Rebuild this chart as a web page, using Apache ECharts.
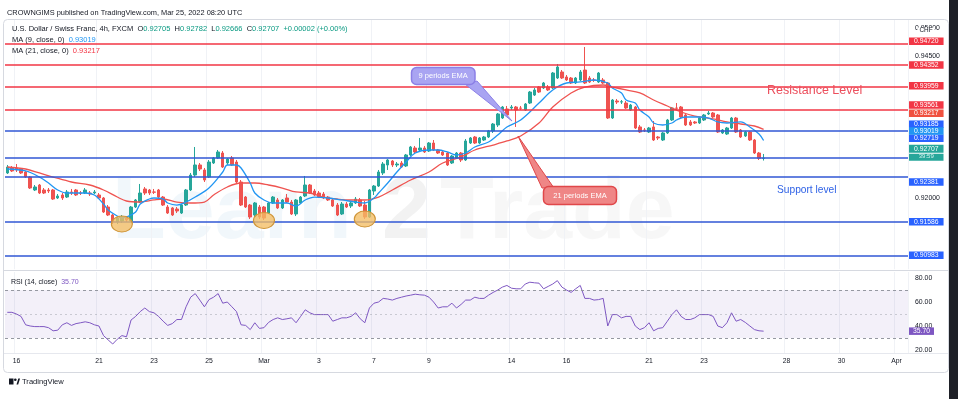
<!DOCTYPE html>
<html>
<head>
<meta charset="utf-8">
<title>USD/CHF 4h</title>
<script src="https://cdn.jsdelivr.net/npm/echarts@6/dist/echarts.min.js"></script>
<style>
  html, body { margin: 0; padding: 0; background: #fff; }
  .wrap { position: relative; width: 958px; height: 399px; overflow: hidden; background: #fff; }
  #chart { width: 958px; height: 399px; }
  .edge { position: absolute; top: 0; bottom: 0; right: 0; width: 9px; background: #1e2027; }
</style>
</head>
<body>
<div class="wrap">
  <div id="chart"></div>
  <div class="edge"></div>
</div>
<script>
const FONT = '"Liberation Sans", Arial, sans-serif'

// bars: two late bars of Feb 15, then 6 bars per trading day
const firstBars = ['2022-02-15 17:00', '2022-02-15 21:00']
const barHours = ['01:00', '05:00', '09:00', '13:00', '17:00', '21:00']
const tradingDays = ['2022-02-16', '2022-02-17', '2022-02-18',
  '2022-02-21', '2022-02-22', '2022-02-23', '2022-02-24', '2022-02-25',
  '2022-02-28', '2022-03-01', '2022-03-02', '2022-03-03', '2022-03-04',
  '2022-03-07', '2022-03-08', '2022-03-09', '2022-03-10', '2022-03-11',
  '2022-03-14', '2022-03-15', '2022-03-16', '2022-03-17', '2022-03-18',
  '2022-03-21', '2022-03-22', '2022-03-23', '2022-03-24', '2022-03-25',
  '2022-03-28', '2022-03-29', '2022-03-30', '2022-03-31', '2022-04-01']
const lastCategory = '2022-04-01 09:00'

const dayLabelDates = ['2022-02-16', '2022-02-21', '2022-02-23', '2022-02-25', '2022-03-01',
  '2022-03-03', '2022-03-07', '2022-03-09', '2022-03-14', '2022-03-16', '2022-03-21',
  '2022-03-23', '2022-03-28', '2022-03-30', '2022-04-01']
const dayLabelTexts = ['16', '21', '23', '25', 'Mar', '3', '7', '9', '14', '16', '21', '23', '28', '30', 'Apr']

const opens = [0.92447, 0.92535, 0.92535, 0.92517, 0.92464, 0.92376, 0.92147, 0.92235, 0.92147, 0.92147,
  0.92147, 0.92006, 0.92059, 0.92023, 0.92112, 0.92147, 0.92094, 0.92094, 0.92094, 0.92094,
  0.92059, 0.92006, 0.91847, 0.91706, 0.91583, 0.91600, 0.91653, 0.91600, 0.91847, 0.91935,
  0.92165, 0.92147, 0.92112, 0.92147, 0.92023, 0.91847, 0.91830, 0.91812, 0.91741, 0.91882,
  0.92147, 0.92411, 0.92588, 0.92500, 0.92376, 0.92623, 0.92711, 0.92799, 0.92623, 0.92711,
  0.92640, 0.92288, 0.92023, 0.91882, 0.91706, 0.91847, 0.91847, 0.91741, 0.91918, 0.91971,
  0.91830, 0.92006, 0.91935, 0.91724, 0.91918, 0.92041, 0.92235, 0.92129, 0.92094, 0.92076,
  0.92023, 0.91971, 0.91882, 0.91724, 0.91900, 0.91865, 0.91918, 0.91971, 0.91882, 0.91671,
  0.92129, 0.92217, 0.92447, 0.92588, 0.92658, 0.92588, 0.92623, 0.92570, 0.92764, 0.92887,
  0.92852, 0.92887, 0.92834, 0.92975, 0.92852, 0.92817, 0.92799, 0.92623, 0.92711, 0.92799,
  0.92676, 0.92975, 0.93081, 0.92975, 0.93028, 0.93081, 0.93187, 0.93293, 0.93416, 0.93575,
  0.93592, 0.93610, 0.93592, 0.93557, 0.93680, 0.93821, 0.93962, 0.93945, 0.93962, 0.93945,
  0.94121, 0.94227, 0.94139, 0.94121, 0.94033, 0.94086, 0.94262, 0.94121, 0.94086, 0.94051,
  0.94086, 0.94033, 0.93416, 0.93716, 0.93698, 0.93680, 0.93557, 0.93610, 0.93258, 0.93205,
  0.93169, 0.93258, 0.93081, 0.93028, 0.93152, 0.93381, 0.93592, 0.93610, 0.93469, 0.93346,
  0.93346, 0.93328, 0.93381, 0.93487, 0.93504, 0.93469, 0.93152, 0.93134, 0.93240, 0.93416,
  0.93205, 0.93099, 0.93169, 0.93028, 0.92799, 0.92705]
const closes = [0.92552, 0.92482, 0.92500, 0.92447, 0.92376, 0.92182, 0.92200, 0.92094, 0.92094, 0.92129,
  0.91988, 0.92041, 0.92006, 0.92112, 0.92094, 0.92059, 0.92090, 0.92147, 0.92076, 0.92112,
  0.92006, 0.91759, 0.91706, 0.91583, 0.91653, 0.91671, 0.91618, 0.91847, 0.91971, 0.92094,
  0.92094, 0.92094, 0.92108, 0.92023, 0.91882, 0.91741, 0.91706, 0.91777, 0.91882, 0.92147,
  0.92411, 0.92588, 0.92517, 0.92323, 0.92640, 0.92711, 0.92817, 0.92552, 0.92693, 0.92588,
  0.92288, 0.91882, 0.91847, 0.91671, 0.91918, 0.91671, 0.91653, 0.91918, 0.92023, 0.91830,
  0.91971, 0.91935, 0.91724, 0.91971, 0.92023, 0.92235, 0.92094, 0.92059, 0.92023, 0.92006,
  0.91971, 0.91865, 0.91706, 0.91900, 0.91847, 0.91918, 0.91988, 0.91865, 0.91671, 0.92147,
  0.92217, 0.92464, 0.92605, 0.92676, 0.92588, 0.92605, 0.92552, 0.92764, 0.92905, 0.92817,
  0.92887, 0.92817, 0.92975, 0.92852, 0.92799, 0.92764, 0.92588, 0.92746, 0.92799, 0.92676,
  0.93011, 0.93064, 0.92975, 0.93064, 0.93081, 0.93187, 0.93310, 0.93487, 0.93610, 0.93469,
  0.93610, 0.93557, 0.93588, 0.93663, 0.93874, 0.93910, 0.93874, 0.94033, 0.93910, 0.94209,
  0.94315, 0.94121, 0.94086, 0.94033, 0.94121, 0.94227, 0.94033, 0.94051, 0.94082, 0.94209,
  0.94033, 0.93416, 0.93733, 0.93698, 0.93702, 0.93592, 0.93645, 0.93240, 0.93169, 0.93200,
  0.93240, 0.93028, 0.93064, 0.93152, 0.93381, 0.93592, 0.93588, 0.93434, 0.93293, 0.93293,
  0.93328, 0.93416, 0.93469, 0.93504, 0.93434, 0.93169, 0.93205, 0.93240, 0.93416, 0.93169,
  0.93081, 0.93169, 0.93028, 0.92799, 0.92705, 0.92707]
const lows = [0.92429, 0.92464, 0.92464, 0.92429, 0.92358, 0.92165, 0.92129, 0.92076, 0.92076, 0.92094,
  0.91971, 0.91988, 0.91971, 0.92006, 0.92059, 0.92041, 0.92059, 0.92076, 0.92041, 0.92076,
  0.91988, 0.91741, 0.91688, 0.91547, 0.91547, 0.91565, 0.91583, 0.91583, 0.91830, 0.91918,
  0.92059, 0.92059, 0.92076, 0.92006, 0.91865, 0.91724, 0.91688, 0.91741, 0.91724, 0.91865,
  0.92129, 0.92376, 0.92482, 0.92288, 0.92358, 0.92605, 0.92693, 0.92535, 0.92588, 0.92570,
  0.92270, 0.91865, 0.91830, 0.91636, 0.91671, 0.91636, 0.91618, 0.91724, 0.91900, 0.91812,
  0.91812, 0.91918, 0.91706, 0.91688, 0.91900, 0.92023, 0.92076, 0.92041, 0.92006, 0.91988,
  0.91953, 0.91847, 0.91688, 0.91706, 0.91830, 0.91830, 0.91900, 0.91847, 0.91636, 0.91653,
  0.92059, 0.92200, 0.92411, 0.92500, 0.92552, 0.92552, 0.92535, 0.92552, 0.92746, 0.92799,
  0.92834, 0.92799, 0.92817, 0.92834, 0.92782, 0.92746, 0.92570, 0.92605, 0.92693, 0.92640,
  0.92658, 0.92958, 0.92958, 0.92958, 0.93011, 0.93064, 0.93152, 0.93258, 0.93399, 0.93451,
  0.93557, 0.93258, 0.93557, 0.93540, 0.93663, 0.93804, 0.93857, 0.93927, 0.93892, 0.93927,
  0.94103, 0.94103, 0.94068, 0.94015, 0.94015, 0.94068, 0.94015, 0.94033, 0.94051, 0.94033,
  0.94015, 0.93399, 0.93399, 0.93663, 0.93663, 0.93575, 0.93540, 0.93222, 0.93152, 0.93169,
  0.93152, 0.93011, 0.93028, 0.93011, 0.93134, 0.93363, 0.93557, 0.93416, 0.93275, 0.93275,
  0.93310, 0.93310, 0.93363, 0.93469, 0.93416, 0.93152, 0.93134, 0.93117, 0.93222, 0.93152,
  0.93064, 0.93081, 0.93011, 0.92782, 0.92676, 0.92666]
const highs = [0.92588, 0.92570, 0.92605, 0.92535, 0.92482, 0.92394, 0.92235, 0.92253, 0.92182, 0.92182,
  0.92165, 0.92076, 0.92094, 0.92147, 0.92165, 0.92165, 0.92129, 0.92182, 0.92129, 0.92147,
  0.92094, 0.92023, 0.91882, 0.91724, 0.91688, 0.91706, 0.91688, 0.91865, 0.91988, 0.92253,
  0.92200, 0.92165, 0.92165, 0.92165, 0.92041, 0.91882, 0.91847, 0.91847, 0.91900, 0.92165,
  0.92447, 0.92905, 0.92623, 0.92535, 0.92676, 0.92729, 0.92852, 0.92834, 0.92711, 0.92746,
  0.92676, 0.92323, 0.92041, 0.91900, 0.91935, 0.91882, 0.91865, 0.91935, 0.92041, 0.92006,
  0.91988, 0.92076, 0.91971, 0.91988, 0.92041, 0.92394, 0.92253, 0.92165, 0.92129, 0.92112,
  0.92041, 0.91988, 0.91918, 0.91935, 0.91935, 0.91953, 0.92023, 0.92006, 0.91953, 0.92165,
  0.92235, 0.92500, 0.92640, 0.92693, 0.92676, 0.92640, 0.92658, 0.92782, 0.92923, 0.92923,
  0.93064, 0.92923, 0.92993, 0.93028, 0.92870, 0.92852, 0.92817, 0.92764, 0.92817, 0.92817,
  0.93046, 0.93081, 0.93099, 0.93081, 0.93099, 0.93205, 0.93328, 0.93504, 0.93628, 0.93628,
  0.93645, 0.93628, 0.93628, 0.93680, 0.93892, 0.93945, 0.93980, 0.94051, 0.93998, 0.94227,
  0.94368, 0.94262, 0.94174, 0.94139, 0.94139, 0.94262, 0.94668, 0.94156, 0.94121, 0.94227,
  0.94121, 0.94051, 0.93751, 0.93751, 0.93733, 0.93716, 0.93663, 0.93628, 0.93293, 0.93240,
  0.93258, 0.93363, 0.93099, 0.93169, 0.93399, 0.93610, 0.93680, 0.93628, 0.93487, 0.93381,
  0.93363, 0.93434, 0.93487, 0.93540, 0.93522, 0.93487, 0.93222, 0.93258, 0.93434, 0.93434,
  0.93222, 0.93187, 0.93187, 0.93046, 0.92817, 0.92782]

// moving averages at these bar indices
const ma9Idx = [0, 4, 7, 9, 11, 13, 17, 19, 21, 22, 24, 25, 26, 28, 29, 31, 32, 34, 35, 37,
  39, 41, 44, 47, 48, 50, 51, 53, 54, 56, 58, 61, 63, 65, 67, 70, 73, 76, 78, 80,
  81, 83, 85, 87, 89, 92, 94, 96, 98, 100, 102, 105, 107, 109, 112, 116, 119, 122, 125, 128,
  131, 132, 134, 135, 137, 138, 140, 141, 143, 145, 146, 148, 151, 153, 155, 157, 160, 162, 164, 165]
const ma9Val = [0.92517, 0.92482, 0.92376, 0.92270, 0.92147, 0.92094, 0.92094, 0.92059, 0.91900, 0.91794,
  0.91688, 0.91653, 0.91671, 0.91759, 0.91900, 0.91988, 0.92006, 0.91988, 0.91918, 0.91882,
  0.91935, 0.92023, 0.92182, 0.92464, 0.92588, 0.92588, 0.92535, 0.92270, 0.92094, 0.91971,
  0.91918, 0.91918, 0.91865, 0.91971, 0.92023, 0.92006, 0.91971, 0.91935, 0.91918, 0.92006,
  0.92094, 0.92270, 0.92464, 0.92640, 0.92799, 0.92852, 0.92852, 0.92817, 0.92764, 0.92799,
  0.92905, 0.92993, 0.93117, 0.93258, 0.93381, 0.93680, 0.93910, 0.94033, 0.94051, 0.94086,
  0.94033, 0.93945, 0.93857, 0.93733, 0.93680, 0.93557, 0.93434, 0.93328, 0.93293, 0.93328,
  0.93381, 0.93434, 0.93434, 0.93416, 0.93346, 0.93328, 0.93346, 0.93258, 0.93134, 0.93019]
const ma21Idx = [0, 4, 7, 10, 14, 18, 21, 24, 26, 29, 32, 34, 37, 40, 43, 45, 48, 51, 54, 57,
  60, 63, 66, 69, 72, 75, 78, 81, 84, 88, 92, 95, 99, 102, 106, 109, 112, 116, 119, 123,
  126, 130, 132, 135, 138, 141, 144, 147, 150, 154, 157, 160, 163, 165]
const ma21Val = [0.92552, 0.92517, 0.92447, 0.92376, 0.92288, 0.92235, 0.92147, 0.92023, 0.91953, 0.91935,
  0.91971, 0.91988, 0.91935, 0.91918, 0.91935, 0.92059, 0.92200, 0.92270, 0.92270, 0.92235,
  0.92182, 0.92112, 0.92094, 0.92023, 0.91988, 0.91971, 0.91971, 0.92023, 0.92147, 0.92323,
  0.92464, 0.92623, 0.92729, 0.92852, 0.92940, 0.93011, 0.93099, 0.93328, 0.93610, 0.93857,
  0.93962, 0.93998, 0.93962, 0.93910, 0.93857, 0.93733, 0.93628, 0.93522, 0.93451, 0.93399,
  0.93346, 0.93310, 0.93275, 0.93217]

const rsi = [51.4, 51.4, 50, 48, 41, 40, 39.5, 39.5, 39.5, 38.6,
  36, 36.5, 41, 42.7, 40.5, 42, 42.7, 43.5, 42.7, 41,
  40, 32, 28.4, 25, 29, 32, 31, 45, 48, 52,
  55, 52, 51, 48, 44, 40.5, 42, 45.4, 45.4, 56,
  64, 67, 61.6, 56, 62, 64, 67, 59, 60, 56,
  52, 41, 40.5, 37, 42.7, 38, 38.6, 43, 45.4, 46.8,
  45.4, 46, 46.8, 42.7, 48, 53.5, 51, 49.5, 49.5, 49.5,
  49.5, 44, 45.4, 46.8, 46.8, 48, 51, 46, 42.7, 55,
  59, 60, 63, 62.5, 61.6, 63, 64, 65, 65.7, 66.5,
  66, 65.7, 64, 60, 55, 56, 56, 59, 55, 58,
  61.6, 61.6, 64, 63, 63, 65.7, 68, 70, 72.4, 73.8,
  71.5, 71, 71, 75, 76.5, 76, 75.7, 71, 73, 75,
  77.8, 72.4, 70, 68, 71, 73.8, 63, 63, 61.6, 62,
  63, 40, 49.5, 49.5, 46.8, 48, 48, 40, 37, 38.6,
  42.7, 36, 38, 38.6, 44, 49.5, 53.5, 48, 45.4, 45.4,
  46.8, 49.5, 49.5, 49.5, 48, 40, 38.6, 42.7, 51, 44,
  45.4, 43, 40, 37, 36, 35.7]

const resistanceLevels = [0.94720, 0.94352, 0.93959, 0.93561]
const supportLevels = [0.93185, 0.92719, 0.92381, 0.91586, 0.90983]
const priceTicks = [0.95, 0.945, 0.92]
const rsiTicks = [20, 40, 60, 80]
const rsiBands = [70, 50, 30]
const circledLows = [[25, 0.91548], [56, 0.91609], [78, 0.91636]]
const barCountdown = '39:59'

// price-scale tags get pushed apart like on the original scale (px, up is negative)
const tagShift = { 0.94720: -2.7, 0.94352: 0, 0.93959: -1.5, 0.93561: -4.8, 0.93185: -6.8,
  0.92719: -19.2, 0.92381: 5.3, 0.91586: 0, 0.90983: -0.7 }

const RED = '#f23645'
const BLUE = '#3157d5'
const MA9_COLOR = '#2196f3'
const MA21_COLOR = '#ef5350'
const UP = '#26a69a'
const DOWN = '#ef5350'

const categories = []
firstBars.forEach(b => categories.push(b))
tradingDays.forEach(d => barHours.forEach(h => categories.push(d + ' ' + h)))
categories.length = categories.indexOf(lastCategory) + 1

const labelAt = {}
categories.forEach((c, i) => {
  const k = dayLabelDates.indexOf(c.slice(0, 10))
  if (k >= 0 && c.endsWith(barHours[0])) labelAt[i] = dayLabelTexts[k]
})

const last = closes.length - 1
const change = closes[last] - closes[last - 1]

function priceTag(value, color, shift) {
  return {
    show: true,
    position: 'end',
    distance: 1,
    formatter: () => '{t|' + value.toFixed(5) + '}',
    padding: shift < 0 ? [0, 0, -2 * shift, 0] : [2 * shift, 0, 0, 0],
    rich: {
      t: { backgroundColor: color, color: '#fff', fontSize: 6.8, lineHeight: 7.6, padding: [0.5, 5, 0, 5], fontFamily: FONT }
    }
  }
}

const hidden = { color: 'rgba(0,0,0,0)', width: 0 }
const levelLines = []
resistanceLevels.forEach(v => levelLines.push({ yAxis: v, lineStyle: { color: RED, width: 1.5, type: 'solid' }, label: priceTag(v, RED, tagShift[v]) }))
supportLevels.forEach(v => levelLines.push({ yAxis: v, lineStyle: { color: BLUE, width: 1.5, type: 'solid' }, label: priceTag(v, '#2962ff', tagShift[v]) }))
levelLines.push({ yAxis: ma21Val[ma21Val.length - 1], lineStyle: hidden, label: priceTag(ma21Val[ma21Val.length - 1], '#f0513f', -16) })
levelLines.push({ yAxis: ma9Val[ma9Val.length - 1], lineStyle: hidden, label: priceTag(ma9Val[ma9Val.length - 1], MA9_COLOR, -9.5) })
levelLines.push({
  yAxis: closes[last],
  lineStyle: hidden,
  label: {
    show: true, position: 'end', distance: 1, padding: [0, 0, 10.4, 0],
    formatter: () => '{p|' + closes[last].toFixed(5) + '}\n{c|' + barCountdown + '}',
    rich: {
      p: { backgroundColor: UP, color: '#fff', fontSize: 6.8, width: 24.5, align: 'center', lineHeight: 8.5, padding: [1, 5, 0, 5], fontFamily: FONT },
      c: { backgroundColor: UP, color: '#d7f2ee', fontSize: 6, width: 24.5, align: 'center', lineHeight: 8.5, padding: [0, 5, 1, 5], fontFamily: FONT }
    }
  }
})

const chart = echarts.init(document.getElementById('chart'))

const splitEvery = { show: true, interval: i => i in labelAt, lineStyle: { color: '#f0f2f6', width: 1 } }

const option = {
  animation: false,
  textStyle: { fontFamily: FONT },
  grid: [
    { left: 5, right: 50, top: 19.63, height: 249.62, containLabel: false, outerBoundsMode: 'none' },
    { left: 5, right: 50, top: 272, height: 81, containLabel: false, outerBoundsMode: 'none' }
  ],
  xAxis: [
    {
      type: 'category', gridIndex: 0, data: categories, boundaryGap: true,
      axisLine: { show: false }, axisTick: { show: false }, axisLabel: { show: false },
      splitLine: splitEvery
    },
    {
      type: 'category', gridIndex: 1, data: categories, boundaryGap: true,
      axisLine: { show: false }, axisTick: { show: false },
      axisLabel: {
        interval: i => i in labelAt,
        formatter: (v, i) => labelAt[i] || '',
        color: '#131722', fontSize: 6.8, margin: 5, fontFamily: FONT
      },
      splitLine: splitEvery
    }
  ],
  yAxis: [
    {
      type: 'value', gridIndex: 0, position: 'right', min: 0.9075, max: 0.9515, interval: 0.0025,
      axisLine: { show: false }, axisTick: { show: false }, splitLine: { show: false },
      axisLabel: {
        formatter: v => priceTicks.some(t => Math.abs(t - v) < 1e-7) ? v.toFixed(5) : '',
        color: '#131722', fontSize: 6.9, margin: 7, fontFamily: FONT
      }
    },
    {
      type: 'value', gridIndex: 1, position: 'right', min: 17.5, max: 85, interval: 2.5,
      axisLine: { show: false }, axisTick: { show: false }, splitLine: { show: false },
      axisLabel: {
        formatter: v => rsiTicks.some(t => Math.abs(t - v) < 1e-6) ? v.toFixed(2) : '',
        color: '#131722', fontSize: 6.9, margin: 7, fontFamily: FONT
      }
    }
  ],
  series: [
    {
      name: 'USDCHF', type: 'candlestick', xAxisIndex: 0, yAxisIndex: 0,
      data: opens.map((o, i) => [o, closes[i], lows[i], highs[i]]),
      barWidth: 3,
      itemStyle: { color: UP, color0: DOWN, borderColor: UP, borderColor0: DOWN, borderWidth: 1 },
      markLine: { symbol: ['none', 'none'], silent: true, animation: false, precision: 5, data: levelLines },
      markPoint: {
        silent: true, animation: false, symbol: 'circle', symbolSize: [21, 16],
        itemStyle: { color: 'rgba(244,190,100,0.78)', borderColor: '#cf9538', borderWidth: 1 },
        label: { show: false },
        data: circledLows.map(p => ({ coord: [categories[p[0]], p[1]] }))
      },
      z: 3
    },
    {
      name: 'MA 21', type: 'line', xAxisIndex: 0, yAxisIndex: 0,
      data: ma21Idx.map((i, k) => [i, ma21Val[k]]),
      smooth: 0.35, showSymbol: false, lineStyle: { color: MA21_COLOR, width: 1.3 }, z: 4
    },
    {
      name: 'MA 9', type: 'line', xAxisIndex: 0, yAxisIndex: 0,
      data: ma9Idx.map((i, k) => [i, ma9Val[k]]),
      smooth: 0.35, showSymbol: false, lineStyle: { color: MA9_COLOR, width: 1.3 }, z: 4
    },
    {
      name: 'RSI', type: 'line', xAxisIndex: 1, yAxisIndex: 1, data: rsi,
      showSymbol: false, lineStyle: { color: '#7e57c2', width: 1 },
      markArea: {
        silent: true,
        itemStyle: { color: 'rgba(126,87,194,0.09)' },
        data: [[{ yAxis: rsiBands[2] }, { yAxis: rsiBands[0] }]]
      },
      markLine: {
        symbol: ['none', 'none'], silent: true, animation: false, precision: 2,
        data: [
          { yAxis: rsiBands[0], lineStyle: { color: '#9598a1', type: [3, 3], width: 1 }, label: { show: false } },
          { yAxis: rsiBands[1], lineStyle: { color: 'rgba(149,152,161,0.45)', type: [2, 3], width: 1 }, label: { show: false } },
          { yAxis: rsiBands[2], lineStyle: { color: '#9598a1', type: [3, 3], width: 1 }, label: { show: false } },
          {
            yAxis: rsi[rsi.length - 1], lineStyle: hidden,
            label: {
              show: true, position: 'end', distance: 1,
              formatter: () => '{t|' + rsi[rsi.length - 1].toFixed(2) + '}',
              rich: { t: { backgroundColor: '#7e57c2', color: '#fff', fontSize: 6.8, lineHeight: 8, padding: [0.5, 4, 0, 4], fontFamily: FONT } }
            }
          }
        ]
      }
    }
  ],
  graphic: [
    // Learn2Trade watermark
    { type: 'text', silent: true, z: 0, x: 112, y: 258, style: { text: 'Learn', fill: 'rgba(170,205,232,0.16)', fontSize: 88, fontWeight: 'bold', fontFamily: FONT, verticalAlign: 'bottom' } },
    { type: 'text', silent: true, z: 0, x: 382, y: 258, style: { text: '2', fill: 'rgba(110,110,110,0.09)', fontSize: 88, fontWeight: 'bold', fontFamily: FONT, verticalAlign: 'bottom' } },
    { type: 'text', silent: true, z: 0, x: 440, y: 258, style: { text: 'Trade', fill: 'rgba(150,150,150,0.08)', fontSize: 88, fontWeight: 'bold', fontFamily: FONT, verticalAlign: 'bottom' } },

    // frame and pane separators
    { type: 'rect', silent: true, z: 20, shape: { x: 3.5, y: 19.5, width: 945, height: 353, r: 4 }, style: { fill: 'none', stroke: '#d6d9e0', lineWidth: 1 } },
    { type: 'line', silent: true, z: 20, shape: { x1: 4, y1: 270.5, x2: 948, y2: 270.5 }, style: { stroke: '#d6d9e0', lineWidth: 1 } },
    { type: 'line', silent: true, z: 20, shape: { x1: 4, y1: 353.5, x2: 948, y2: 353.5 }, style: { stroke: '#e6e8ee', lineWidth: 1 } },

    // header and legends
    { type: 'text', silent: true, z: 20, x: 7, y: 12.5, style: { text: 'CROWNGIMS published on TradingView.com, Mar 25, 2022 08:20 UTC', fill: '#131722', fontSize: 7.4, fontFamily: FONT, verticalAlign: 'middle' } },
    {
      type: 'text', silent: true, z: 20, x: 12, y: 29.3,
      style: {
        text: '{n|U.S. Dollar / Swiss Franc, 4h, FXCM}  {n|O}{v|' + opens[last].toFixed(5) + '}  {n|H}{v|' + highs[last].toFixed(5) +
          '}  {n|L}{v|' + lows[last].toFixed(5) + '}  {n|C}{v|' + closes[last].toFixed(5) + '}  {v|' +
          (change >= 0 ? '+' : '') + change.toFixed(5) + ' (+0.00%)}',
        verticalAlign: 'middle', fontSize: 7.5, fontFamily: FONT,
        rich: { n: { fill: '#131722', fontSize: 7.5, fontFamily: FONT }, v: { fill: '#089981', fontSize: 7.5, fontFamily: FONT } }
      }
    },
    {
      type: 'text', silent: true, z: 20, x: 12, y: 40,
      style: {
        text: '{n|MA (9, close, 0)}  {v|' + ma9Val[ma9Val.length - 1].toFixed(5) + '}', verticalAlign: 'middle', fontSize: 7.5, fontFamily: FONT,
        rich: { n: { fill: '#131722', fontSize: 7.5, fontFamily: FONT }, v: { fill: MA9_COLOR, fontSize: 7.5, fontFamily: FONT } }
      }
    },
    {
      type: 'text', silent: true, z: 20, x: 12, y: 50.7,
      style: {
        text: '{n|MA (21, close, 0)}  {v|' + ma21Val[ma21Val.length - 1].toFixed(5) + '}', verticalAlign: 'middle', fontSize: 7.5, fontFamily: FONT,
        rich: { n: { fill: '#131722', fontSize: 7.5, fontFamily: FONT }, v: { fill: RED, fontSize: 7.5, fontFamily: FONT } }
      }
    },
    {
      type: 'text', silent: true, z: 20, x: 11, y: 282,
      style: {
        text: '{n|RSI (14, close)}  {v|' + rsi[rsi.length - 1].toFixed(2) + '}', verticalAlign: 'middle', fontSize: 7, fontFamily: FONT,
        rich: { n: { fill: '#131722', fontSize: 7, fontFamily: FONT }, v: { fill: '#7e57c2', fontSize: 7, fontFamily: FONT } }
      }
    },
    { type: 'text', silent: true, z: 30, x: 926, y: 30.5, style: { text: 'CHF', fill: '#131722', fontSize: 6.4, fontFamily: FONT, align: 'center', verticalAlign: 'middle', backgroundColor: '#fff', padding: [0, 2] } },

    // level captions
    { type: 'text', silent: true, z: 20, x: 767, y: 91, style: { text: 'Resistance Level', fill: '#ec4e5c', fontSize: 12.5, fontFamily: FONT, verticalAlign: 'middle' } },
    { type: 'text', silent: true, z: 20, x: 777, y: 190, style: { text: 'Support level', fill: '#2f62e6', fontSize: 10.2, fontFamily: FONT, verticalAlign: 'middle' } },

    // callouts
    { type: 'polygon', silent: true, z: 21, shape: { points: [[465, 84], [477, 81], [512, 121]] }, style: { fill: '#a9a4f2', stroke: '#8b7fe6', lineWidth: 1 } },
    { type: 'rect', silent: true, z: 22, shape: { x: 411.5, y: 67.5, width: 63.5, height: 17, r: 5 }, style: { fill: '#a9a4f2', stroke: '#8b7fe6', lineWidth: 1.5 } },
    { type: 'text', silent: true, z: 23, x: 443.2, y: 76.2, style: { text: '9 periods EMA', fill: '#fff', fontSize: 7.5, fontFamily: FONT, align: 'center', verticalAlign: 'middle' } },
    { type: 'polygon', silent: true, z: 21, shape: { points: [[518, 136], [542, 188], [554, 188]] }, style: { fill: '#ef8686', stroke: '#e0474a', lineWidth: 1 } },
    { type: 'rect', silent: true, z: 22, shape: { x: 543.5, y: 186.5, width: 73, height: 18, r: 5 }, style: { fill: '#ef8686', stroke: '#e0474a', lineWidth: 1.5 } },
    { type: 'text', silent: true, z: 23, x: 580, y: 195.7, style: { text: '21 periods EMA', fill: '#fff', fontSize: 7.5, fontFamily: FONT, align: 'center', verticalAlign: 'middle' } },

    // TradingView footer
    { type: 'rect', silent: true, z: 20, shape: { x: 9, y: 378.5, width: 4.5, height: 6 }, style: { fill: '#131722' } },
    { type: 'circle', silent: true, z: 20, shape: { cx: 15.3, cy: 379.8, r: 1.3 }, style: { fill: '#131722' } },
    { type: 'polygon', silent: true, z: 20, shape: { points: [[16.5, 384.5], [18.3, 378.5], [20, 378.5], [18.2, 384.5]] }, style: { fill: '#131722' } },
    { type: 'text', silent: true, z: 20, x: 22, y: 381.8, style: { text: 'TradingView', fill: '#131722', fontSize: 7.6, fontFamily: FONT, verticalAlign: 'middle' } }
  ]
}

chart.setOption(option)
</script>
</body>
</html>
